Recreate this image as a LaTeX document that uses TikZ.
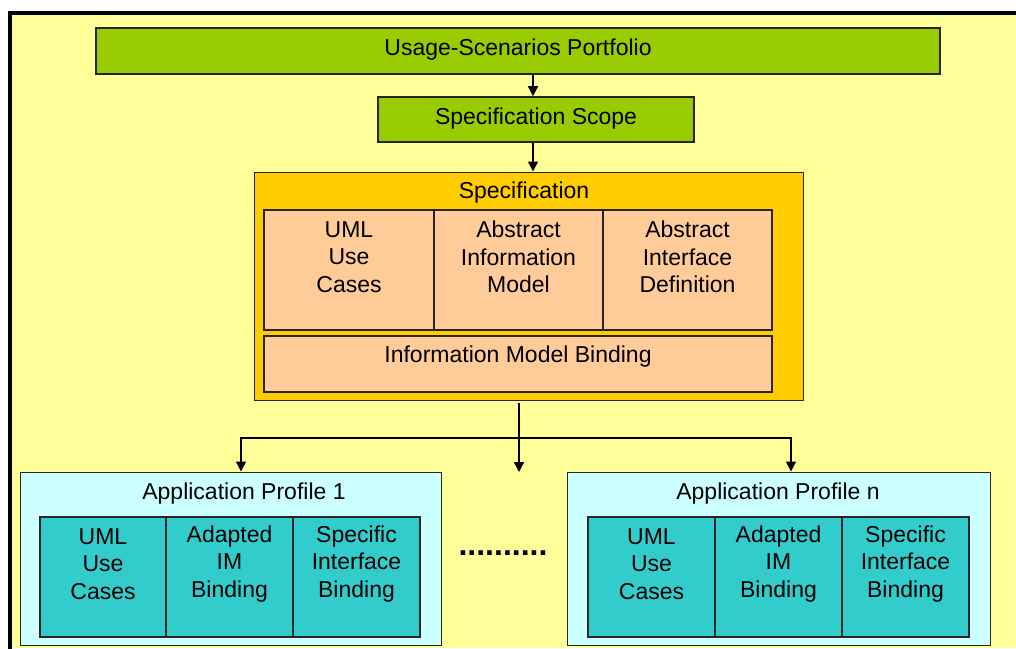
\documentclass[tikz,border=0pt]{standalone}
\usepackage{fontspec}
\setmainfont{Liberation Sans}
\usetikzlibrary{arrows.meta}
\definecolor{bgyellow}{HTML}{FFFF99}
\definecolor{boxgreen}{HTML}{99CC00}
\definecolor{boxorange}{HTML}{FFCC00}
\definecolor{boxpeach}{HTML}{FFCC99}
\definecolor{boxcyan}{HTML}{CCFFFF}
\definecolor{boxteal}{HTML}{33CCCC}
\tikzset{
  box/.style={draw=black!85, line width=1.6pt, inner sep=0pt, anchor=center},
  cell/.style={draw=black!85, line width=1.2pt, inner sep=0pt, anchor=center},
  txt/.style={inner sep=0pt, align=center, font=\fontsize{23}{27.5}\selectfont},
  conn/.style={line width=1.5pt, -{Triangle[length=10pt,width=10pt]}},
  plain/.style={line width=1.5pt}
}
\begin{document}
\begin{tikzpicture}[x=1pt,y=-1pt]
\useasboundingbox (0,0) rectangle (1016,648);
\fill[white] (0,0) rectangle (1016,648);
\fill[bgyellow] (10,13) rectangle (1016,648);
\draw[line width=4pt] (10,650) -- (10,13) -- (1018,13);

% top boxes
\node[box, fill=boxgreen, minimum width=844, minimum height=46] (usage) at (518,51) {};
\node[txt] (usaget) at (518,50) {Usage-Scenarios Portfolio};
\node[box, fill=boxgreen, minimum width=316, minimum height=45] (scope) at (536,119.5) {};
\node[txt] (scopet) at (536,119) {Specification Scope};

% specification
\node[draw=black!85, line width=1pt, fill=boxorange, inner sep=0pt, minimum width=549, minimum height=228] (spec) at (528.5,286) {};
\node[txt] (spect) at (524,193) {Specification};
\node[cell, fill=boxpeach, minimum width=170, minimum height=120] (c1) at (349,270) {};
\node[cell, fill=boxpeach, minimum width=169, minimum height=120] (c2) at (518.5,270) {};
\node[cell, fill=boxpeach, minimum width=169, minimum height=120] (c3) at (687.5,270) {};
\node[txt] (c1t) at (349,257) {UML\\Use\\Cases};
\node[txt] (c2t) at (518.5,257) {Abstract\\Information\\Model};
\node[txt] (c3t) at (687.5,257) {Abstract\\Interface\\Definition};
\node[cell, fill=boxpeach, minimum width=508, minimum height=56] (imb) at (518,364) {};
\node[txt] (imbt) at (518,357) {Information Model Binding};

% profile 1
\node[draw=black!85, line width=1pt, fill=boxcyan, inner sep=0pt, minimum width=421, minimum height=173] (p1) at (230.5,558.5) {};
\node[txt] (p1t) at (244,494) {Application Profile 1};
\node[cell, fill=boxteal, minimum width=126, minimum height=120] (a1) at (103,577) {};
\node[cell, fill=boxteal, minimum width=127, minimum height=120] (a2) at (229.5,577) {};
\node[cell, fill=boxteal, minimum width=127, minimum height=120] (a3) at (356.5,577) {};
\node[txt] (a1t) at (103,564) {UML\\Use\\Cases};
\node[txt] (a2t) at (229.5,564) {Adapted\\IM\\Binding};
\node[txt] (a3t) at (356.5,564) {Specific\\Interface\\Binding};

% profile n
\node[draw=black!85, line width=1pt, fill=boxcyan, inner sep=0pt, minimum width=423, minimum height=173] (pn) at (778.5,558.5) {};
\node[txt] (pnt) at (778,494) {Application Profile n};
\node[cell, fill=boxteal, minimum width=127, minimum height=120] (b1) at (651.5,577) {};
\node[cell, fill=boxteal, minimum width=127, minimum height=120] (b2) at (778.5,577) {};
\node[cell, fill=boxteal, minimum width=127, minimum height=120] (b3) at (905.5,577) {};
\node[txt] (b1t) at (651.5,564) {UML\\Use\\Cases};
\node[txt] (b2t) at (778.5,564) {Adapted\\IM\\Binding};
\node[txt] (b3t) at (905.5,564) {Specific\\Interface\\Binding};

% dots
\node[inner sep=0pt, font=\bfseries\fontsize{32}{32}\selectfont] (dots) at (503,553) {..........};

% connectors
\draw[conn] (usage.south -| 533,0) -- (scope.north -| 533,0);
\draw[conn] (scope.south -| 533,0) -- (spec.north -| 533,0);
\coordinate (jn) at (519,438);
\draw[plain] (519,403) -- (jn);
\draw[plain] (241,438) -- (791,438);
\draw[conn] (241,437.25) -- (p1.north -| 241,0);
\draw[conn] (jn) -- (519,472);
\draw[conn] (791,437.25) -- (pn.north -| 791,0);
\end{tikzpicture}
\end{document}
